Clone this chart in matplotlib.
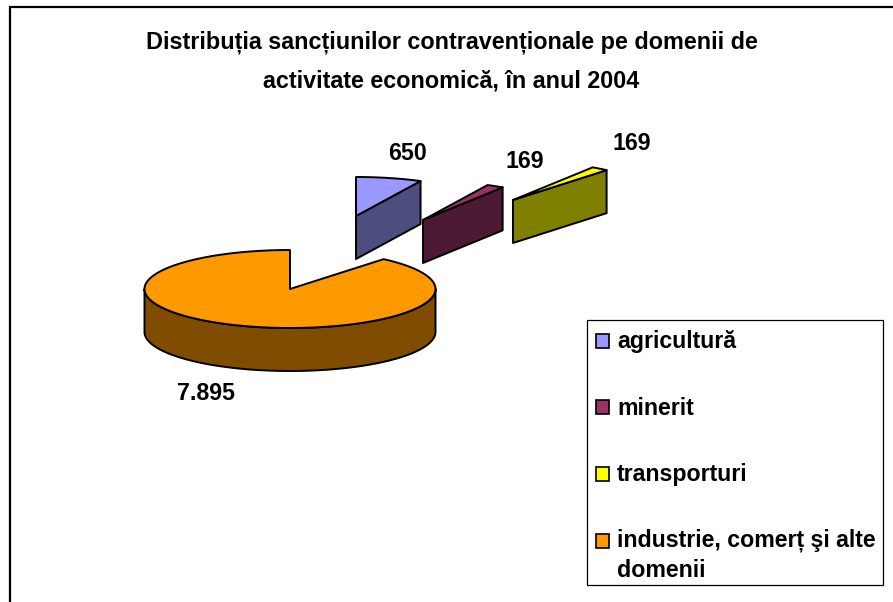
import numpy as np
import matplotlib
matplotlib.use("Agg")
import matplotlib.pyplot as plt
from matplotlib.patches import Polygon, Rectangle

# ---- data ----
categories = ["agricultură", "minerit", "transporturi", "industrie, comerț şi alte\ndomenii"]
values = [650, 169, 169, 7895]
value_labels = ["650", "169", "169", "7.895"]
title = "Distribuția sancțiunilor contravenționale pe domenii de\nactivitate economică, în anul 2004"

# ---- styles ----
top_colors = ["#9999FF", "#993366", "#FFFF00", "#FF9900"]
side_colors = ["#4D4D80", "#4D1A33", "#808000", "#804D00"]
RX, RY, DEPTH = 145.5, 39.0, 43.0
apexes = [(356, 216), (423, 220), (513, 200), (290, 289)]
label_pos = [(407.5, 154), (524.5, 161.5), (631.5, 144), (206, 394)]
FONT = "Liberation Sans"
FS = 16.7

fig = plt.figure(figsize=(8.93, 6.02), dpi=100)
ax = fig.add_axes([0, 0, 1, 1])
ax.set_xlim(0, 893)
ax.set_ylim(602, 0)
ax.axis("off")

# outer frame: only the left and top edges fall inside the picture
ax.plot([9.5, 9.5, 893], [602, 6.5, 6.5], color="black", lw=1.6, solid_capstyle="butt", solid_joinstyle="miter")


def rim(apex, a0, a1):
    a = np.radians(np.linspace(a0, a1, max(int(abs(a1 - a0)) + 2, 8)))
    return np.column_stack([apex[0] + RX * np.sin(a), apex[1] - RY * np.cos(a)])


total = sum(values)
angles = np.concatenate([[0], np.cumsum(values) / total * 360])
LW = 1.4
for i in range(len(values)):
    a0, a1 = angles[i], angles[i + 1]
    apex = np.array(apexes[i], float)
    pts = rim(apex, a0, a1)
    if i < 3:
        end = pts[-1]
        side = [apex, end, end + [0, DEPTH], apex + [0, DEPTH]]
    else:
        front = rim(apex, 90, 270)
        side = np.vstack([front, (front + [0, DEPTH])[::-1]])
    ax.add_patch(Polygon(side, closed=True, fc=side_colors[i], ec="black", lw=LW, joinstyle="round"))
    top = np.vstack([apex, pts])
    ax.add_patch(Polygon(top, closed=True, fc=top_colors[i], ec="black", lw=LW, joinstyle="round"))
    ax.text(*label_pos[i], value_labels[i], ha="center", va="center", fontsize=FS,
            fontweight="bold", family=FONT, color="black")

ax.text(451.5, 61.5, title, ha="center", va="center", fontsize=16.85, fontweight="bold",
        family=FONT, color="black", linespacing=1.83, multialignment="center")

# legend
ax.add_patch(Rectangle((587, 319.5), 296, 265.5, fc="white", ec="black", lw=0.9))
swatch_top = [333.5, 400, 467, 533.5]
text_base = [348, 415, 481.5, 577]  # baseline of each entry's last line
for c, sy, ty, lab in zip(top_colors, swatch_top, text_base, categories):
    ax.add_patch(Rectangle((596, sy), 13, 14, fc=c, ec="black", lw=1.2))
    ax.text(617, ty, lab, ha="left", va="baseline", fontsize=FS, fontweight="bold",
            family=FONT, color="black", linespacing=1.39)

fig.savefig("out.png", dpi=100)
